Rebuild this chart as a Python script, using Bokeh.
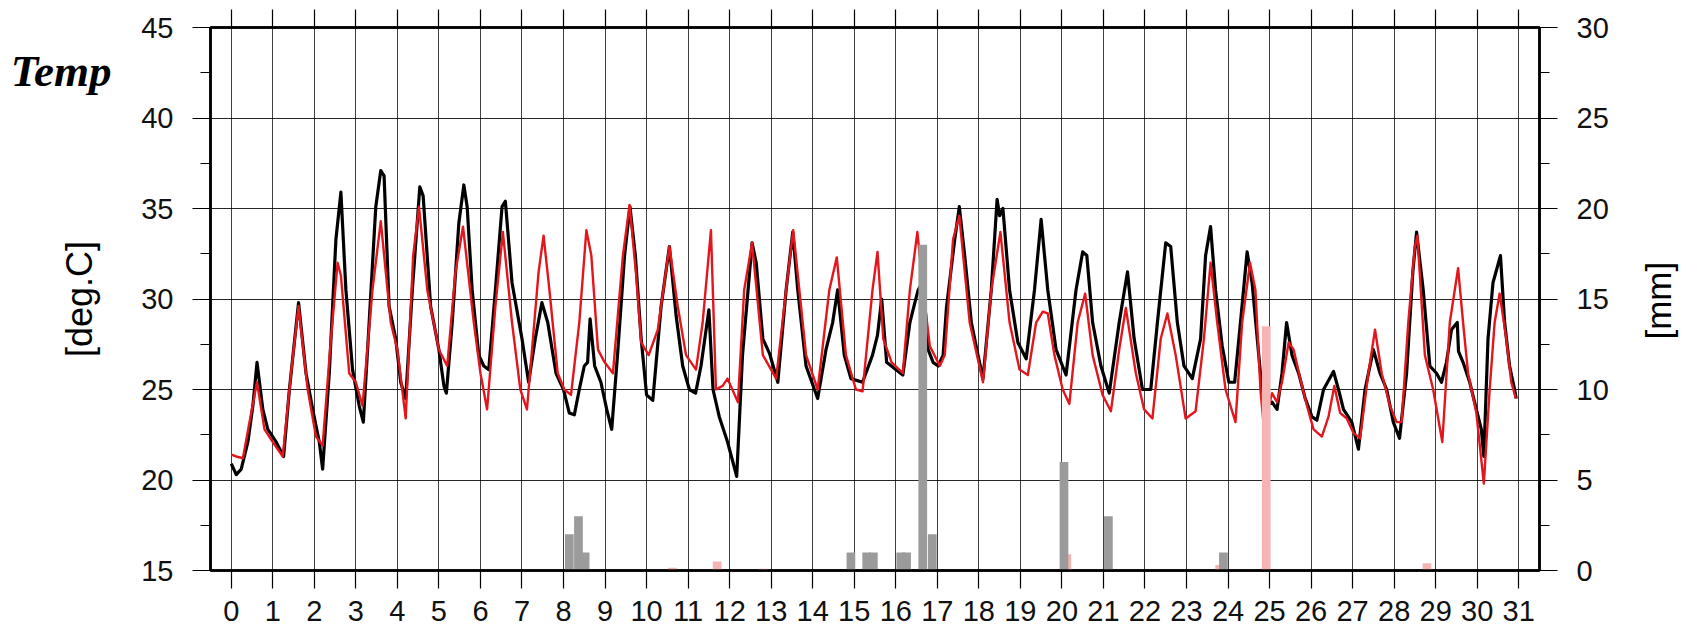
import math
from bokeh.plotting import figure
from bokeh.models import Range1d, LinearAxis, FixedTicker, CustomLabelingPolicy
from bokeh.embed import file_html
from bokeh.resources import INLINE

# ---------------- data ----------------
day_ticks = list(range(0, 32))
temp_ticks = [15, 20, 25, 30, 35, 40, 45]
temp_minor = [17.5, 22.5, 27.5, 32.5, 37.5, 42.5]
rain_ticks = [0, 5, 10, 15, 20, 25, 30]
rain_minor = [2.5, 7.5, 12.5, 17.5, 22.5, 27.5]
title_text = "Temp"
temp_label = "[deg.C]"
rain_label = "[mm]"

obs_day = [0.00, 0.12, 0.24, 0.40, 0.52, 0.62, 0.76, 0.88, 1.08, 1.26, 1.40, 1.62, 1.80, 1.96, 2.12, 2.20,
           2.36, 2.52, 2.64, 2.76, 2.92, 3.08, 3.18, 3.32, 3.48, 3.60, 3.68, 3.80, 3.96, 4.08, 4.20, 4.36,
           4.54, 4.62, 4.80, 5.00, 5.12, 5.18, 5.32, 5.48, 5.60, 5.68, 5.80, 5.96, 6.08, 6.20, 6.36, 6.52,
           6.60, 6.76, 7.00, 7.16, 7.32, 7.48, 7.62, 7.82, 8.00, 8.14, 8.26, 8.38, 8.50, 8.58, 8.64, 8.75,
           8.90, 9.04, 9.16, 9.30, 9.47, 9.60, 9.73, 9.87, 10.00, 10.15, 10.35, 10.55, 10.71, 10.87, 11.03,
           11.18, 11.31, 11.50, 11.60, 11.75, 11.95, 12.17, 12.31, 12.54, 12.64, 12.80, 12.96, 13.16, 13.36,
           13.52, 13.64, 13.84, 14.12, 14.32, 14.48, 14.60, 14.76, 14.92, 15.20, 15.44, 15.56, 15.66, 15.78,
           16.00, 16.17, 16.34, 16.46, 16.54, 16.66, 16.78, 16.90, 17.02, 17.14, 17.22, 17.42, 17.53, 17.66,
           17.82, 17.98, 18.10, 18.30, 18.44, 18.50, 18.58, 18.74, 18.94, 19.14, 19.34, 19.50, 19.66, 19.86,
           20.10, 20.34, 20.50, 20.60, 20.74, 20.94, 21.14, 21.38, 21.58, 21.74, 21.94, 22.14, 22.30, 22.50,
           22.62, 22.78, 22.94, 23.14, 23.34, 23.46, 23.58, 23.70, 23.86, 24.02, 24.16, 24.30, 24.46, 24.58,
           24.74, 24.86, 25.06, 25.18, 25.30, 25.41, 25.54, 25.70, 25.86, 26.02, 26.14, 26.30, 26.54, 26.66,
           26.78, 26.98, 27.14, 27.30, 27.50, 27.66, 27.82, 27.98, 28.13, 28.30, 28.45, 28.54, 28.70, 28.86,
           29.02, 29.14, 29.26, 29.38, 29.52, 29.55, 29.66, 29.82, 29.98, 30.10, 30.16, 30.26, 30.38, 30.56,
           30.66, 30.78, 30.90, 30.94]
obs_temp = [20.9, 20.3, 20.6, 22.1, 24.1, 26.5, 23.9, 22.8, 22.1, 21.3, 25.0, 29.8, 25.9, 23.9, 22.1, 20.6,
            25.9, 33.3, 35.9, 30.5, 26.1, 24.1, 23.2, 28.7, 35.1, 37.1, 36.8, 29.6, 27.8, 25.4, 24.5, 30.5,
            36.2, 35.7, 29.6, 27.2, 25.2, 24.8, 28.7, 34.2, 36.3, 35.1, 30.5, 26.9, 26.3, 26.1, 30.5, 35.1,
            35.4, 30.9, 27.8, 25.4, 27.8, 29.8, 28.7, 25.9, 25.0, 23.7, 23.6, 25.0, 26.3, 26.5, 28.9, 26.3,
            25.4, 23.9, 22.8, 26.9, 32.4, 35.1, 32.4, 27.8, 24.7, 24.4, 29.6, 32.9, 29.1, 26.3, 25.0,
            24.8, 26.3, 29.4, 25.0, 23.5, 22.1, 20.2, 26.9, 33.1, 32.0, 27.8, 27.0, 25.4, 30.5,
            33.7, 30.5, 26.3, 24.5, 27.2, 28.7, 30.5, 26.9, 25.6, 25.4, 26.9, 28.0, 30.0, 26.5,
            26.1, 25.8, 28.7, 29.8, 30.5, 31.0, 27.2, 26.5, 26.3, 26.9, 29.5, 33.3, 35.1, 32.4,
            28.7, 26.9, 25.6, 30.5, 35.5, 34.6, 35.0, 30.5, 27.6, 26.7, 30.5, 34.4, 30.5, 27.2,
            25.8, 30.5, 32.6, 32.4, 28.7, 26.3, 24.8, 28.7, 31.5, 27.8, 25.0, 25.0, 28.7, 33.1,
            32.9, 28.7, 26.3, 25.6, 27.8, 32.4, 34.0, 30.5, 27.4, 25.4, 25.4, 28.7, 32.6, 30.9,
            26.9, 24.0, 24.3, 23.9, 25.9, 28.7, 26.9, 25.9, 24.5, 23.5, 23.3, 25.0, 26.0, 25.0,
            23.9, 23.2, 21.7, 25.0, 27.2, 25.9, 25.0, 23.2, 22.3, 25.9, 31.5, 33.7, 30.5, 26.3,
            25.9, 25.4, 26.5, 28.3, 28.7, 27.1, 26.5, 25.4, 23.9, 22.8, 21.3, 27.8, 30.9, 32.4,
            28.7, 26.3, 25.0, 24.5]

mod_day = [0.00, 0.12, 0.28, 0.44, 0.62, 0.80, 1.00, 1.24, 1.44, 1.62, 1.84, 2.04, 2.20, 2.40, 2.56, 2.64,
           2.84, 3.00, 3.16, 3.40, 3.60, 3.84, 4.00, 4.20, 4.38, 4.52, 4.72, 5.00, 5.20, 5.40, 5.58, 5.84,
           6.00, 6.16, 6.36, 6.54, 6.76, 6.96, 7.12, 7.40, 7.52, 7.66, 7.86, 8.02, 8.18, 8.38, 8.55, 8.67,
           8.83, 8.99, 9.19, 9.43, 9.59, 9.75, 9.87, 10.05, 10.27, 10.55, 10.75, 10.95, 11.19, 11.35, 11.55,
           11.67, 11.83, 11.95, 12.20, 12.35, 12.54, 12.80, 13.12, 13.36, 13.53, 13.84, 14.12, 14.40, 14.58,
           14.80, 15.04, 15.20, 15.44, 15.56, 15.70, 15.90, 16.17, 16.34, 16.52, 16.66, 16.82, 17.06, 17.18,
           17.38, 17.53, 17.78, 18.10, 18.30, 18.52, 18.74, 18.98, 19.18, 19.38, 19.54, 19.66, 19.82, 20.02,
           20.18, 20.38, 20.56, 20.74, 20.98, 21.18, 21.38, 21.54, 21.78, 21.98, 22.18, 22.38, 22.54, 22.74,
           22.98, 23.22, 23.42, 23.58, 23.74, 23.94, 24.18, 24.34, 24.53, 24.66, 24.78, 24.86, 25.06, 25.18,
           25.30, 25.46, 25.58, 25.74, 25.90, 26.06, 26.26, 26.42, 26.56, 26.70, 26.86, 27.02, 27.18, 27.38,
           27.54, 27.70, 27.90, 28.06, 28.18, 28.34, 28.50, 28.56, 28.74, 28.94, 29.16, 29.34, 29.54, 29.66,
           29.78, 29.98, 30.16, 30.30, 30.42, 30.54, 30.70, 30.82, 30.93]
mod_temp = [21.4, 21.3, 21.2, 23.2, 25.4, 22.8, 22.1, 21.3, 25.9, 29.6, 25.0, 22.4, 21.9, 27.8, 32.0, 31.3,
            25.9, 25.4, 24.1, 30.5, 34.3, 28.7, 27.2, 23.4, 32.4, 35.1, 30.5, 27.2, 26.3, 31.5, 34.0, 28.7,
            25.9, 23.9, 29.6, 33.7, 28.7, 25.0, 23.9, 31.5, 33.5, 30.5, 25.9, 25.0, 24.7, 28.7, 33.8, 32.4,
            27.2, 26.5, 25.9, 32.4, 35.2, 31.3, 27.6, 26.9, 28.3, 32.9, 29.6, 26.9, 26.1, 28.7, 33.8,
            25.0, 25.2, 25.6, 24.3, 30.5, 33.1, 26.9, 25.6, 30.5, 33.8, 26.9, 25.0, 30.5, 32.3,
            26.9, 25.0, 24.9, 30.5, 32.6, 27.8, 26.5, 25.9, 30.5, 33.7, 30.5, 27.4, 26.3, 26.9,
            33.3, 34.6, 28.7, 25.4, 30.5, 33.7, 28.7, 26.1, 25.8, 28.7, 29.3, 29.2, 26.9, 25.0,
            24.2, 28.7, 30.3, 26.9, 24.7, 23.8, 27.2, 29.5, 25.9, 23.9, 23.4, 27.8, 29.2, 26.9,
            23.4, 23.8, 27.8, 32.0, 28.7, 25.0, 23.2, 28.7, 32.0, 30.5, 25.0, 23.0, 24.8, 24.3,
            25.4, 27.6, 27.2, 25.6, 24.1, 22.8, 22.4, 23.5, 25.2, 23.7, 23.4, 22.6, 22.3, 25.9,
            28.3, 25.9, 24.1, 23.2, 23.2, 28.7, 32.9, 33.5, 26.9, 25.0, 22.1, 28.7, 31.7, 28.7,
            25.9, 23.7, 19.8, 25.0, 28.7, 30.3, 27.8, 25.4, 24.5]

rain_obs_day = [8.14, 8.36, 8.52, 14.92, 15.30, 15.46, 16.12, 16.26, 16.65, 16.88, 20.05, 21.12, 23.89]
rain_obs_mm = [2.0, 3.0, 1.0, 1.0, 1.0, 1.0, 1.0, 1.0, 18.0, 2.0, 6.0, 3.0, 1.0]
rain_mod_day = [10.62, 11.70, 12.80, 20.12, 23.80, 24.92, 28.79]
rain_mod_mm = [0.15, 0.5, 0.1, 0.9, 0.3, 13.5, 0.4]

# ---------------- figure ----------------
p = figure(width=1700, height=633, x_range=Range1d(-0.5, 31.5), y_range=Range1d(15, 45),
           output_backend="svg", toolbar_location=None,
           min_border_left=210, min_border_right=155, min_border_top=27, min_border_bottom=63)
p.extra_y_ranges = {"rain": Range1d(0, 30)}
p.background_fill_color = "white"
p.border_fill_color = "white"
p.outline_line_color = "black"
p.outline_line_width = 2.5

FONT = "Liberation Sans"
NO_LABELS = """
try { const r = indices.clone(); for (const i of indices) { r.unset(i) } return r }
catch (e) { return indices }
"""

def style_axis(ax, tick_out):
    ax.axis_line_color = "black"
    ax.axis_line_width = 2.5
    ax.major_tick_line_color = "black"
    ax.major_tick_line_width = 1.2
    ax.major_tick_in = 0
    ax.major_tick_out = tick_out
    ax.minor_tick_line_color = "black"
    ax.minor_tick_line_width = 1.2
    ax.minor_tick_in = 0
    ax.minor_tick_out = 10
    ax.major_label_text_font = FONT
    ax.major_label_text_font_size = "29px"
    ax.major_label_text_color = "#111111"
    ax.axis_label_text_font = FONT
    ax.axis_label_text_font_style = "normal"
    ax.axis_label_text_color = "black"

def text_only_axis(ax):
    ax.axis_line_color = None
    ax.major_tick_line_color = None
    ax.minor_tick_line_color = None
    ax.major_tick_out = 0
    ax.major_tick_in = 0
    ax.minor_tick_out = 0
    ax.minor_tick_in = 0
    ax.major_label_text_color = "black"

xb = p.xaxis[0]
xb.ticker = FixedTicker(ticks=day_ticks)
style_axis(xb, 18)
xb.major_label_standoff = 12

# top axis: tick marks only, labels filtered out
xt = LinearAxis(ticker=FixedTicker(ticks=day_ticks))
style_axis(xt, 18)
xt.major_label_text_font_size = "0px"
xt.major_label_standoff = 0
xt.major_label_policy = CustomLabelingPolicy(code=NO_LABELS)
p.add_layout(xt, "above")

yl = p.yaxis[0]
yl.ticker = FixedTicker(ticks=temp_ticks, minor_ticks=temp_minor)
style_axis(yl, 18)
yl.major_label_standoff = 19
yl.axis_label = temp_label
yl.axis_label_text_font_size = "36px"
yl.axis_label_standoff = 38

# outer left axis carrying only the "Temp" heading as its single tick label
yt = LinearAxis(ticker=FixedTicker(ticks=[42.6], minor_ticks=[]),
                major_label_overrides={42.6: title_text})
text_only_axis(yt)
yt.major_label_standoff = -55
yt.major_label_text_font = "Liberation Serif"
yt.major_label_text_font_style = "bold italic"
yt.major_label_text_font_size = "45px"
p.add_layout(yt, "left")

yr = LinearAxis(y_range_name="rain", ticker=FixedTicker(ticks=rain_ticks, minor_ticks=rain_minor))
style_axis(yr, 18)
yr.major_label_standoff = 19
p.add_layout(yr, "right")

# outer right axis carrying the rotated "[mm]" unit label (reads bottom to top)
ym = LinearAxis(y_range_name="rain", ticker=FixedTicker(ticks=[12.76], minor_ticks=[]),
                major_label_overrides={12.76: rain_label})
text_only_axis(ym)
ym.major_label_standoff = 47
ym.major_label_text_font = FONT
ym.major_label_text_font_size = "35px"
ym.major_label_orientation = math.pi / 2
p.add_layout(ym, "right")

p.xgrid.ticker = FixedTicker(ticks=day_ticks)
p.xgrid.grid_line_color = "black"
p.xgrid.grid_line_alpha = 0.75
p.xgrid.grid_line_width = 1
p.ygrid.ticker = FixedTicker(ticks=temp_ticks)
p.ygrid.grid_line_color = "black"
p.ygrid.grid_line_alpha = 0.85
p.ygrid.grid_line_width = 1

# ---------------- glyphs ----------------
p.line(obs_day, obs_temp, line_color="black", line_width=3.2, line_join="round")
p.line(mod_day, mod_temp, line_color="#e3161d", line_width=2.4, line_join="round")
p.vbar(x=rain_mod_day, top=rain_mod_mm, bottom=0, width=0.21, y_range_name="rain",
       fill_color="#f4b4b4", line_color=None)
p.vbar(x=rain_obs_day, top=rain_obs_mm, bottom=0, width=0.21, y_range_name="rain",
       fill_color="#9b9b9b", line_color=None)

open("out.html", "w").write(file_html(p, INLINE))
